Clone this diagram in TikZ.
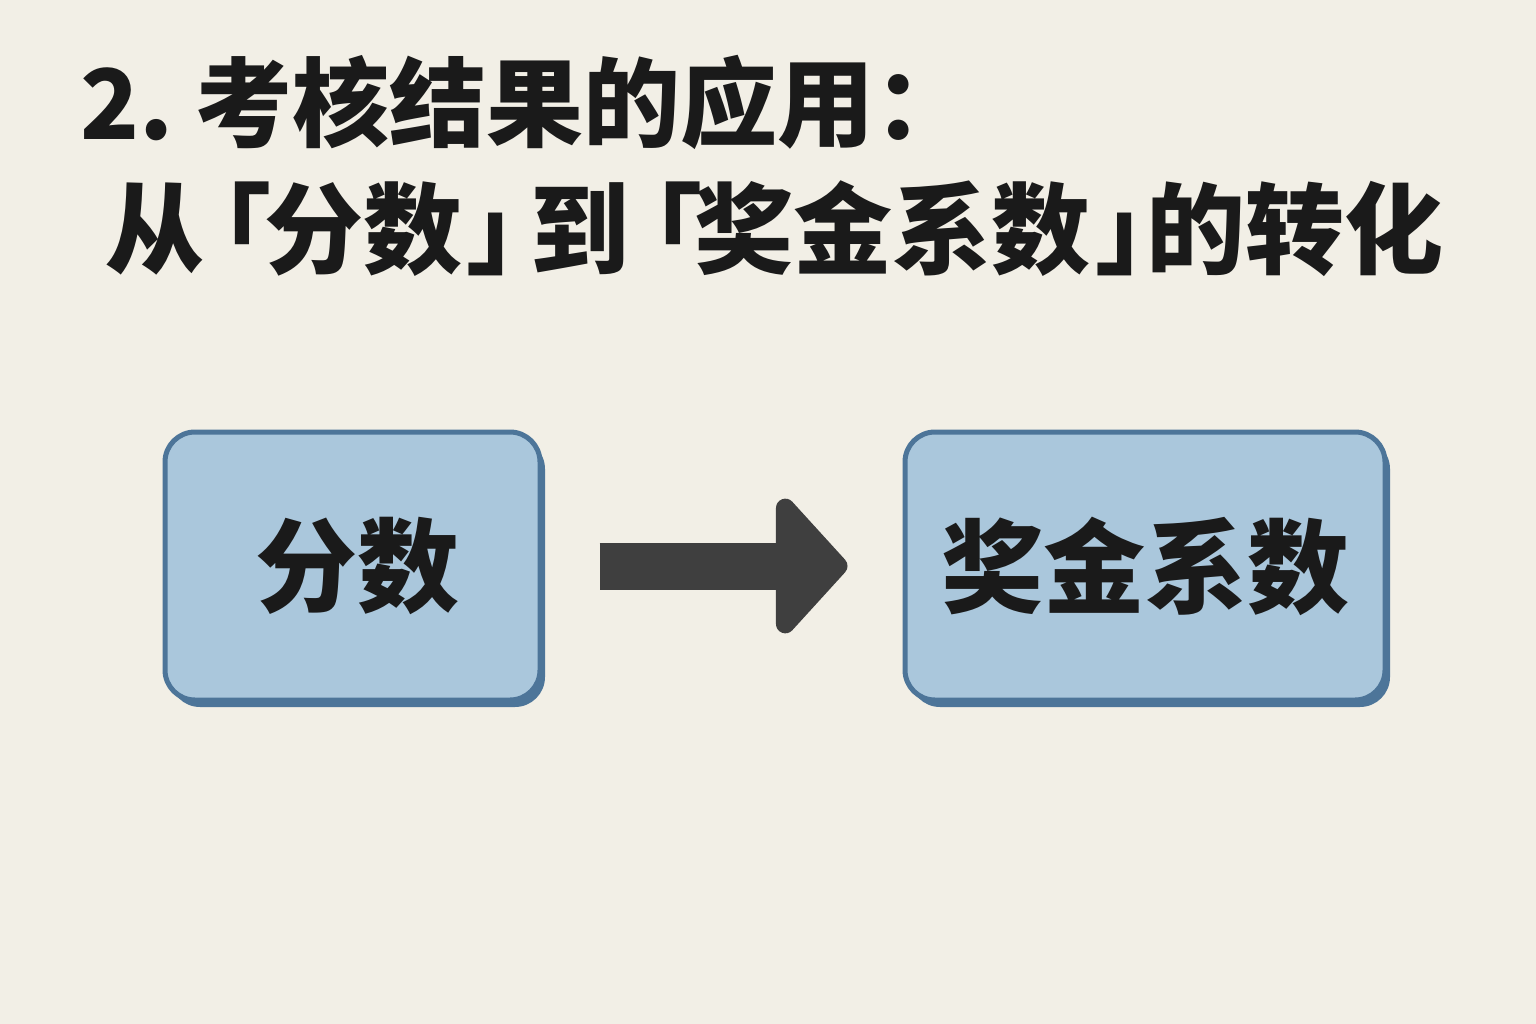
\documentclass[tikz,border=0pt]{standalone}
\usepackage{fontspec}
\newfontfamily\cjk{Noto Sans CJK SC}
\newfontfamily\cjkhalf{Noto Sans CJK SC}[CharacterWidth=AlternateHalf]
\usetikzlibrary{arrows.meta,shadows}
\definecolor{bg}{HTML}{F2EFE6}
\definecolor{boxfill}{HTML}{AAC7DC}
\definecolor{boxedge}{HTML}{4D7599}
\definecolor{arrowc}{HTML}{3F3F3F}
\definecolor{ink}{HTML}{1A1A1A}
\newcommand{\hb}[1]{{\cjkhalf\bfseries #1}}
\begin{document}
\begin{tikzpicture}[x=1pt,y=-1pt,
  titleone/.style={anchor=west,inner sep=0pt,text=ink,font=\cjk\bfseries\fontsize{97}{100}\selectfont},
  titletwo/.style={anchor=west,inner sep=0pt,text=ink,font=\cjk\bfseries\fontsize{99}{104}\selectfont},
  boxnode/.style={draw=boxedge,line width=5pt,fill=boxfill,rounded corners=30pt,
    text=ink,font=\cjk\bfseries\fontsize{102}{106}\selectfont,
    general shadow={fill=boxedge,shadow xshift=5pt,shadow yshift=-7pt}},
  flowarrow/.style={draw=arrowc,line width=47pt,-{Triangle[length=75pt,width=160pt,round]}}
]
\fill[bg] (0,0) rectangle (1536,1024);
\useasboundingbox (0,0) rectangle (1536,1024);
\node[titleone] (t1) at (80,102) {2.\kern22pt\relax 考核结果的应用：};
\node[titletwo] (t2) at (105,228.5) {从\kern18pt\relax\hb{「}\kern-7pt\relax 分数\kern4pt\relax\hb{」}\kern14pt\relax 到\kern24pt\relax\hb{「}\kern-8pt\relax 奖金系数\kern5pt\relax\hb{」}\kern1pt\relax 的转化};
\node[boxnode,minimum width=375pt,minimum height=268pt] (b1) at (352.5,566) {\kern10pt\relax 分数};
\node[boxnode,minimum width=480pt,minimum height=268pt] (b2) at (1145,566) {奖金系数};
\draw[flowarrow,shorten <=57pt,shorten >=55pt] (b1.east) -- (b2.west);
\end{tikzpicture}
\end{document}
